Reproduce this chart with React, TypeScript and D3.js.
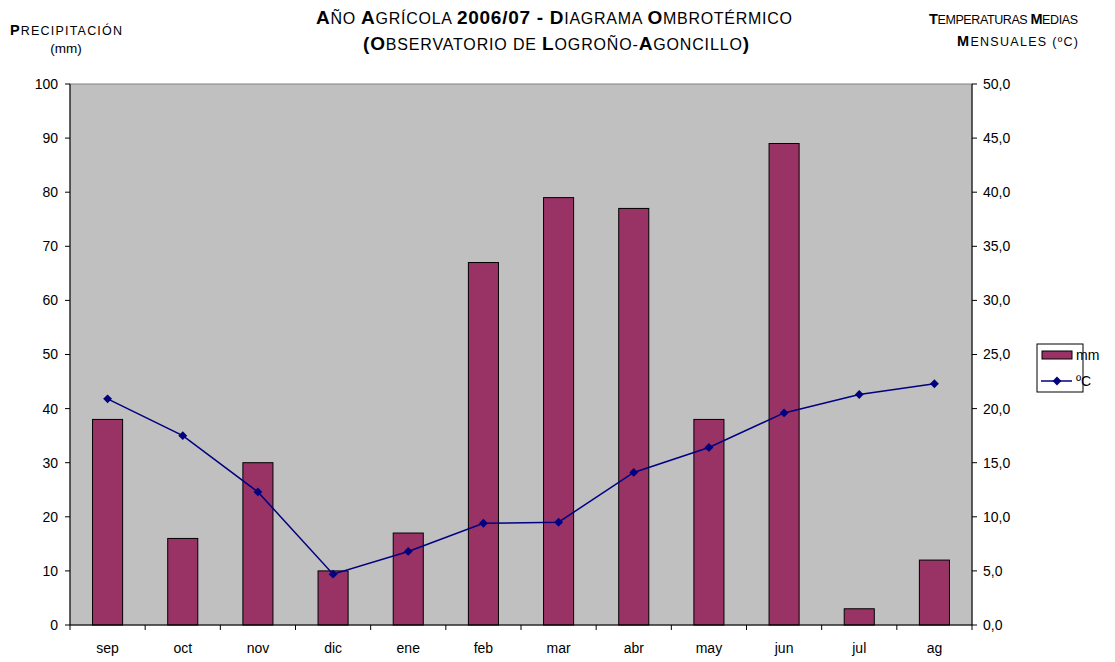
import React from 'react'
import * as d3 from 'd3'

// monthly data, agricultural year 2006/07
const months = ['sep', 'oct', 'nov', 'dic', 'ene', 'feb', 'mar', 'abr', 'may', 'jun', 'jul', 'ag']
const precip = [38, 16, 30, 10, 17, 67, 79, 77, 38, 89, 3, 12]
const temps = [20.9, 17.5, 12.3, 4.7, 6.8, 9.4, 9.5, 14.1, 16.4, 19.6, 21.3, 22.3]
const precipTicks = [0, 10, 20, 30, 40, 50, 60, 70, 80, 90, 100]
const tempTicks = [0, 5, 10, 15, 20, 25, 30, 35, 40, 45, 50]

const W = 1115
const H = 662
const left = 70
const right = 972
const top = 84
const bottom = 625

const font = '"Liberation Sans", Arial, sans-serif'
const barColor = '#993366'
const lineColor = '#000080'

export default function App() {
  const x = d3.scaleBand<string>().domain(months).range([left, right]).paddingInner(0.6).paddingOuter(0.3)
  const band = d3.scaleBand<string>().domain(months).range([left, right])
  const yP = d3.scaleLinear().domain([0, 100]).range([bottom, top])
  const yT = d3.scaleLinear().domain([0, 50]).range([bottom, top])
  const fmt = (v: number) => d3.format('.1f')(v).replace('.', ',')
  const cx = (m: string) => band(m)! + band.bandwidth() / 2

  const line = d3.line<number>()
    .x((_, i) => cx(months[i]))
    .y(d => yT(d))

  const diamond = d3.symbol().type(d3.symbolDiamond2).size(50)()

  return (
    <svg width={W} height={H} style={{ position: 'absolute', left: 0, top: 0 }} fontFamily={font}>
      <rect width={W} height={H} fill="#fff" />

      {/* titles */}
      <text x={316} y={24} fontSize={16} fill="#000" textLength={476} lengthAdjust="spacing">
        <tspan fontWeight="bold" fontSize={19}>A</tspan>ÑO <tspan fontWeight="bold" fontSize={19}>A</tspan>GRÍCOLA <tspan fontWeight="bold" fontSize={19}>2006/07 - D</tspan>IAGRAMA <tspan fontWeight="bold" fontSize={19}>O</tspan>MBROTÉRMICO
      </text>
      <text x={363} y={50} fontSize={16} fill="#000" textLength={386} lengthAdjust="spacing">
        <tspan fontWeight="bold" fontSize={19}>(O</tspan>BSERVATORIO DE <tspan fontWeight="bold" fontSize={19}>L</tspan>OGROÑO-<tspan fontWeight="bold" fontSize={19}>A</tspan>GONCILLO<tspan fontWeight="bold" fontSize={19}>)</tspan>
      </text>
      <text x={10} y={35} fontSize={12.5} fill="#000" textLength={112} lengthAdjust="spacing">
        <tspan fontWeight="bold" fontSize={14.5}>P</tspan>RECIPITACIÓN
      </text>
      <text x={66} y={53} textAnchor="middle" fontSize={13.5} fill="#000">(mm)</text>
      <text x={929} y={24} fontSize={12.5} fill="#000" textLength={149} lengthAdjust="spacing">
        <tspan fontWeight="bold" fontSize={14.5}>T</tspan>EMPERATURAS <tspan fontWeight="bold" fontSize={14.5}>M</tspan>EDIAS
      </text>
      <text x={957} y={46} fontSize={12.5} fill="#000" textLength={121} lengthAdjust="spacing">
        <tspan fontWeight="bold" fontSize={14.5}>M</tspan>ENSUALES  (ºC)
      </text>

      {/* plot area */}
      <rect x={left} y={top} width={right - left} height={bottom - top} fill="#C0C0C0" stroke="#808080" strokeWidth={1} />

      {/* bars */}
      {precip.map((v, i) => (
        <rect key={months[i]} x={x(months[i])} y={yP(v)} width={x.bandwidth()} height={bottom - yP(v)}
          fill={barColor} stroke="#000" strokeWidth={1} />
      ))}

      {/* temperature line */}
      <path d={line(temps) ?? ''} fill="none" stroke={lineColor} strokeWidth={1.5} />
      {temps.map((t, i) => (
        <path key={i} d={diamond ?? ''} fill={lineColor}
          transform={`translate(${cx(months[i])},${yT(t)})`} />
      ))}

      {/* axes */}
      <line x1={left} x2={left} y1={top} y2={bottom} stroke="#000" />
      <line x1={right} x2={right} y1={top} y2={bottom} stroke="#000" />
      <line x1={left} x2={right} y1={bottom} y2={bottom} stroke="#000" />
      {precipTicks.map(t => (
        <g key={'p' + t}>
          <line x1={left - 5} x2={left} y1={yP(t)} y2={yP(t)} stroke="#000" />
          <text x={left - 12} y={yP(t)} dy="0.35em" textAnchor="end" fontSize={14}>{t}</text>
        </g>
      ))}
      {tempTicks.map(t => (
        <g key={'t' + t}>
          <line x1={right} x2={right + 5} y1={yT(t)} y2={yT(t)} stroke="#000" />
          <text x={right + 11} y={yT(t)} dy="0.35em" fontSize={14}>{fmt(t)}</text>
        </g>
      ))}
      {months.map((m, i) => (
        <g key={'m' + m}>
          {i > 0 && <line x1={band(m)} x2={band(m)} y1={bottom} y2={bottom + 5} stroke="#000" />}
          <text x={cx(m)} y={bottom + 28} textAnchor="middle" fontSize={14}>{m}</text>
        </g>
      ))}
      <line x1={left} x2={left} y1={bottom} y2={bottom + 5} stroke="#000" />
      <line x1={right} x2={right} y1={bottom} y2={bottom + 5} stroke="#000" />

      {/* legend */}
      <rect x={1037} y={344} width={46} height={48} fill="#fff" stroke="#000" />
      <rect x={1042} y={351} width={30} height={8} fill={barColor} stroke="#000" />
      <text x={1076} y={355} dy="0.35em" fontSize={14}>mm</text>
      <line x1={1041} x2={1072} y1={381} y2={381} stroke={lineColor} strokeWidth={1.5} />
      <path d={diamond ?? ''} fill={lineColor} transform="translate(1057,381)" />
      <text x={1076} y={381} dy="0.35em" fontSize={14}>ºC</text>
    </svg>
  )
}
